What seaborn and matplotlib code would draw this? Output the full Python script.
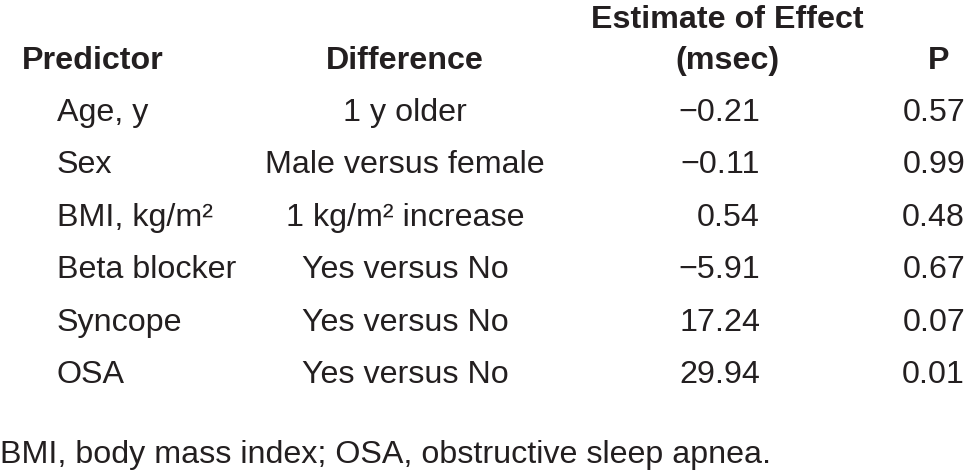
import matplotlib
matplotlib.use("Agg")
import matplotlib.pyplot as plt
import seaborn as sns

# table contents
header_cols = ["Predictor", "Difference", "Estimate of Effect\n(msec)", "P"]
predictors = ["Age, y", "Sex", "BMI, kg/m²", "Beta blocker", "Syncope", "OSA"]
differences = ["1 y older", "Male versus female", "1 kg/m² increase",
               "Yes versus No", "Yes versus No", "Yes versus No"]
estimates = [-0.21, -0.11, 0.54, -5.91, 17.24, 29.94]
p_values = [0.57, 0.99, 0.48, 0.67, 0.07, 0.01]
footnote = "BMI, body mass index; OSA, obstructive sleep apnea."

sns.set_theme(style="white")
# narrow face first if present, otherwise regular Liberation Sans
plt.rcParams["font.family"] = ["Liberation Sans Narrow", "Liberation Sans", "DejaVu Sans"]

ink = "#231f20"
fs = 23.2

fig = plt.figure(figsize=(9.67, 4.76), dpi=100)
ax = fig.add_axes([0, 0, 1, 1])
ax.set_xlim(0, 967)
ax.set_ylim(476, 0)
ax.axis("off")

# header (baseline ~69 px)
ax.text(93, 69, header_cols[0], ha="center", va="baseline", fontsize=fs, fontweight="bold", color=ink)
ax.text(405, 69, header_cols[1], ha="center", va="baseline", fontsize=fs, fontweight="bold", color=ink)
top, bottom = header_cols[2].split("\n")
ax.text(727, 28, top, ha="center", va="baseline", fontsize=fs, fontweight="bold", color=ink)
ax.text(727, 69, bottom, ha="center", va="baseline", fontsize=fs, fontweight="bold", color=ink)
ax.text(939, 69, header_cols[3], ha="center", va="baseline", fontsize=fs, fontweight="bold", color=ink)

# rows
row0, step = 121, 52.4
for i, (pred, diff, est, p) in enumerate(zip(predictors, differences, estimates, p_values)):
    y = row0 + i * step
    ax.text(57, y, pred, ha="left", va="baseline", fontsize=fs, color=ink)
    ax.text(405, y, diff, ha="center", va="baseline", fontsize=fs, color=ink)
    est_txt = f"{est:.2f}".replace("-", "\u2212")
    ax.text(760, y, est_txt, ha="right", va="baseline", fontsize=fs, color=ink)
    ax.text(965, y, f"{p:.2f}", ha="right", va="baseline", fontsize=fs, color=ink)

ax.text(0, 463, footnote, ha="left", va="baseline", fontsize=fs, color=ink)

fig.savefig("out.png", dpi=100, facecolor="white")
